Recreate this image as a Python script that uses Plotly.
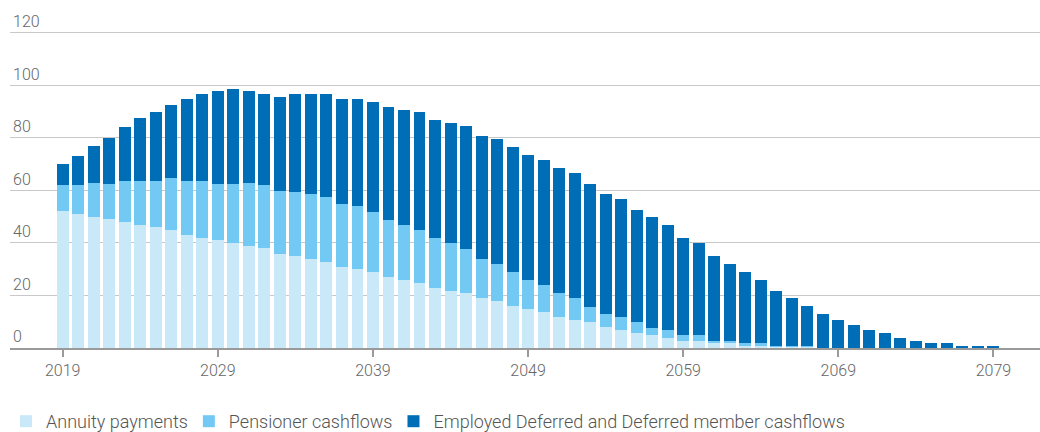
import plotly.graph_objects as go

years = list(range(2019, 2080))

annuity = [52, 51, 50, 49, 47.8, 46.7, 45.9, 44.8, 42.9, 41.7,
           41, 39.9, 38.7, 38, 35.7, 34.9, 33.8, 32.7, 30.8, 30,
           28.9, 27, 25.9, 24.7, 22.8, 21.7, 20.9, 19, 17.9, 16,
           14.9, 13.8, 11.9, 10.7, 10, 8, 6.9, 5.8, 5, 3.9,
           2.8, 2.8, 2, 2, 0.9, 0.9, 0.5, 0.5, 0.5, 0,
           0, 0, 0, 0, 0, 0, 0, 0, 0, 0,
           0]

pensioner = [10, 11, 13, 13.6, 15.9, 17, 17.8, 20, 20.8, 22,
             21.6, 22.7, 24.3, 24, 24.2, 24.6, 25, 24.9, 24.2, 23.9,
             22.7, 21.6, 20.8, 20.1, 18.9, 18.2, 16.7, 14.8, 14, 12.9,
             11, 10.2, 9.1, 8.3, 5.6, 5, 5, 4.2, 2.7, 3,
             2.2, 2.2, 0.8, 0.8, 1.1, 1.1, 0.4, 0.4, 0.4, 0,
             0, 0, 0, 0, 0, 0, 0, 0, 0, 0,
             0]

employed = [8, 11, 14, 17.4, 20.3, 23.8, 26.1, 27.7, 31, 32.9,
            35.2, 35.9, 34.8, 34.6, 35.6, 37.1, 37.8, 39, 39.7, 40.8,
            42, 43.1, 43.9, 45, 45.1, 45.8, 46.9, 46.9, 47.7, 47.7,
            47.7, 47.7, 47.6, 47.7, 47, 45.8, 45, 42.7, 42, 39.8,
            36.7, 34.9, 32.2, 29.1, 26.9, 23.9, 20.8, 18.1, 15.1, 13,
            10.7, 8.8, 6.9, 5.8, 3.9, 2.8, 2, 2, 0.9, 0.9,
            0.9]

tick_years = [2019, 2029, 2039, 2049, 2059, 2069, 2079]
y_ticks = [0, 20, 40, 60, 80, 100, 120]

font = dict(family='Roboto', size=16, color='#666666', weight=300)

fig = go.Figure()

fig.add_trace(go.Bar(x=years, y=annuity, name='Annuity payments',
                     marker=dict(color='#c9e8f8', line=dict(width=0))))
fig.add_trace(go.Bar(x=years, y=pensioner, name='Pensioner cashflows',
                     marker=dict(color='#72c9f3', line=dict(width=0))))
fig.add_trace(go.Bar(x=years, y=employed, name='Employed Deferred and Deferred member cashflows',
                     marker=dict(color='#006eb6', line=dict(width=0))))

fig.update_layout(
    barmode='stack',
    bargap=0.23,
    width=1040,
    height=440,
    margin=dict(l=10, r=0, t=5, b=90),
    paper_bgcolor='white',
    plot_bgcolor='white',
    font=font,
    showlegend=True,
    legend=dict(orientation='h', x=0, xanchor='left', y=-0.215, yanchor='middle',
                indentation=-4,
                font=dict(family='Roboto', size=18, color='#555555', weight=300),
                traceorder='normal'),
)

fig.update_xaxes(
    range=[2015.6, 2082],
    tickvals=tick_years,
    showgrid=False,
    showline=True,
    linecolor='#9a9a9a',
    linewidth=2,
    ticks='outside',
    ticklen=7,
    tickcolor='#9a9a9a',
    tickwidth=1.5,
    tickfont=font,
    automargin=False,
)

fig.update_yaxes(
    range=[0, 130.6],
    tickvals=y_ticks,
    showgrid=True,
    gridcolor='#c8c8c8',
    gridwidth=1,
    zeroline=False,
    ticklabelposition='inside top',
    ticklabelstandoff=0,
    tickfont=font,
    automargin=False,
)

# page body has a default margin, drop it so the figure sits at 0,0
fig.write_html("out.html", config={'displayModeBar': False},
               post_script="document.body.style.margin='0';")
